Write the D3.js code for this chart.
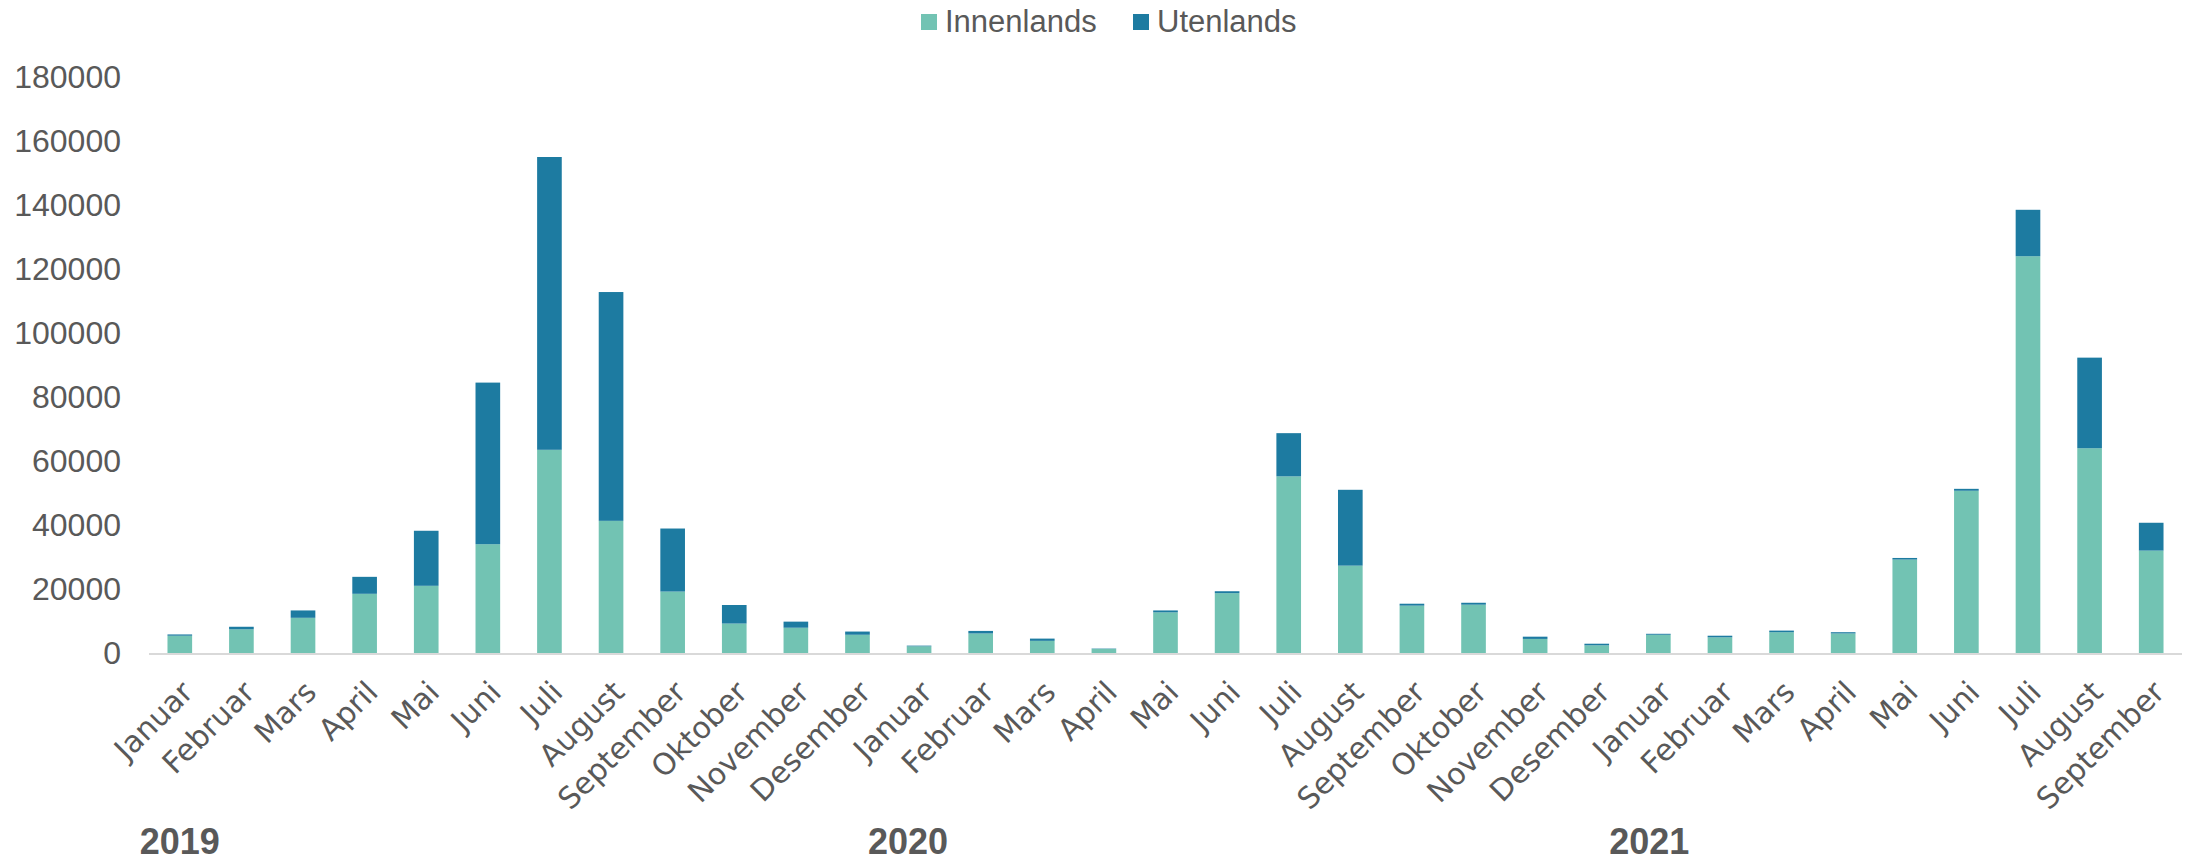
<!DOCTYPE html>
<html>
<head>
<meta charset="utf-8">
<script src="https://cdn.jsdelivr.net/npm/d3@7"></script>
<style>
  html, body { margin: 0; padding: 0; background: #ffffff; }
  svg { display: block; }
  text { font-family: "Liberation Sans", Arial, sans-serif; fill: #595959; }
</style>
</head>
<body>
<svg id="chart" width="2186" height="862"></svg>
<script>
// ---- data ----
const categories = [
  "Januar","Februar","Mars","April","Mai","Juni","Juli","August","September","Oktober","November","Desember",
  "Januar","Februar","Mars","April","Mai","Juni","Juli","August","September","Oktober","November","Desember",
  "Januar","Februar","Mars","April","Mai","Juni","Juli","August","September"
];
const years = ["2019", "2020", "2021"];
const seriesNames = ["Innenlands", "Utenlands"];
const innenlands = [
  5400, 7400, 11000, 18500, 21000, 34000, 63500, 41300, 19200, 9200, 7900, 5700,
  2100, 6100, 3800, 1300, 12700, 18700, 55200, 27300, 14800, 15100, 4400, 2400,
  5700, 4900, 6500, 6100, 29200, 50700, 124000, 64000, 32000
];
const utenlands = [
  400, 800, 2300, 5300, 17200, 50500, 91500, 71500, 19700, 5800, 1900, 1000,
  200, 800, 700, 100, 600, 600, 13500, 23700, 600, 600, 700, 500,
  300, 500, 500, 400, 500, 600, 14500, 28300, 8700
];
const yTicks = [0, 20000, 40000, 60000, 80000, 100000, 120000, 140000, 160000, 180000];

// ---- layout ----
const colors = ["#72c3b3", "#1d7ba1"];
const svg = d3.select("#chart");
const plot = { left: 149, right: 2182, top: 77, bottom: 653 };

const rows = categories.map((c, i) => ({ i, cat: c, Innenlands: innenlands[i], Utenlands: utenlands[i] }));
const stack = d3.stack().keys(seriesNames)(rows);

const x = d3.scaleBand()
  .domain(rows.map(r => r.i))
  .range([plot.left, plot.right])
  .paddingInner(0.6)
  .paddingOuter(0.3);

const y = d3.scaleLinear().domain([0, 180000]).range([plot.bottom, plot.top]);

// y axis
const yAxis = svg.append("g")
  .attr("transform", `translate(121,0)`)
  .call(d3.axisLeft(y).tickValues(yTicks).tickSize(0).tickPadding(0).tickFormat(d3.format("d")));
yAxis.select(".domain").remove();
yAxis.selectAll("text")
  .style("font-family", '"Liberation Sans", Arial, sans-serif')
  .style("font-size", "32px")
  .attr("fill", "#595959");

// bars
svg.append("g").selectAll("g")
  .data(stack)
  .join("g")
  .attr("fill", (d, k) => colors[k])
  .selectAll("rect")
  .data(d => d)
  .join("rect")
  .attr("x", d => x(d.data.i))
  .attr("width", x.bandwidth())
  .attr("y", d => y(d[1]))
  .attr("height", d => y(d[0]) - y(d[1]));

// x axis line
svg.append("line")
  .attr("x1", plot.left).attr("x2", plot.right)
  .attr("y1", y(0) + 1).attr("y2", y(0) + 1)
  .attr("stroke", "#d9d9d9").attr("stroke-width", 2);

// x labels
svg.append("g").selectAll("text")
  .data(rows)
  .join("text")
  .attr("transform", d => `translate(${x(d.i) + x.bandwidth() / 2 + 15},${plot.bottom + 41}) rotate(-45)`)
  .attr("text-anchor", "end")
  .style("font-family", '"DejaVu Sans", sans-serif')
  .style("font-size", "30px")
  .text(d => d.cat);

// year labels under each January
const yearShift = [0, -11, -9];
let yr = 0;
const yearPos = [];
rows.forEach(r => { if (r.cat === "Januar" && yr < years.length) { yearPos.push({ year: years[yr], i: r.i, k: yr }); yr++; } });
svg.append("g").selectAll("text")
  .data(yearPos)
  .join("text")
  .attr("x", d => x(d.i) + x.bandwidth() / 2 + yearShift[d.k])
  .attr("y", 854)
  .attr("text-anchor", "middle")
  .style("font-size", "36px")
  .style("font-weight", "bold")
  .text(d => d.year);

// legend
const legendX = [921, 1133];
const lg = svg.append("g").selectAll("g")
  .data(seriesNames)
  .join("g")
  .attr("transform", (d, k) => `translate(${legendX[k]},0)`);
lg.append("rect").attr("x", 0).attr("y", 14).attr("width", 16).attr("height", 16)
  .attr("fill", (d, k) => colors[k]);
lg.append("text").attr("x", 24).attr("y", 32).style("font-size", "31px").text(d => d);
</script>
</body>
</html>
